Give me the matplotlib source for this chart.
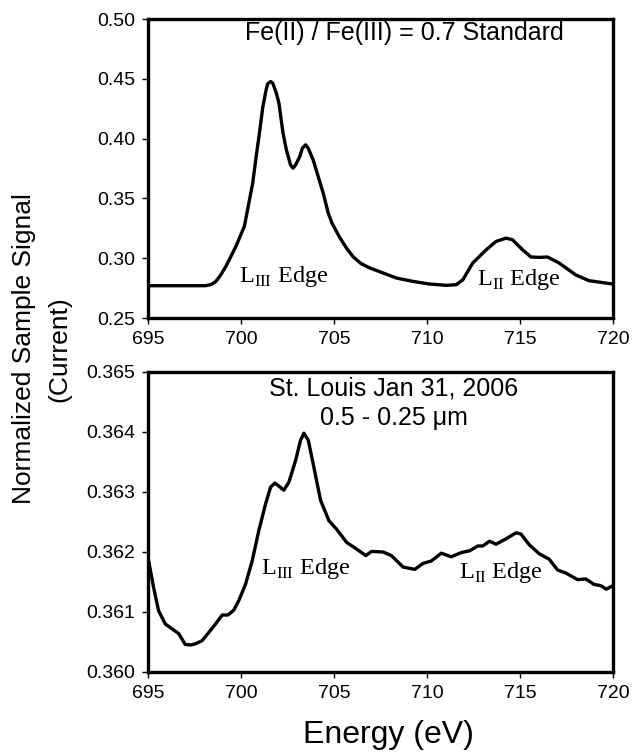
import numpy as np
import matplotlib.pyplot as plt
from matplotlib.ticker import FormatStrFormatter

plt.rcParams['font.family'] = ['Liberation Sans', 'DejaVu Sans']
plt.rcParams['mathtext.fontset'] = 'custom'
plt.rcParams['mathtext.rm'] = 'Liberation Serif'

# Fe(II)/Fe(III) = 0.7 standard spectrum
std_energy = [695.0, 698.1, 698.4, 698.65, 698.9, 699.19, 699.73, 700.18, 700.63, 700.81,
              700.99, 701.17, 701.35, 701.44, 701.59, 701.71, 701.9, 702.04, 702.26,
              702.44, 702.66, 702.8, 702.94, 703.16, 703.3, 703.47, 703.61, 703.88,
              704.15, 704.42, 704.69, 704.9, 705.32, 705.69, 706.04, 706.45, 706.93,
              708.36, 709.25, 710.14, 711.04, 711.57, 711.93, 712.46, 713.18, 713.71,
              714.25, 714.6, 715.14, 715.59, 716.04, 716.48, 717.1, 718.0, 718.71, 720.0]
std_signal = [0.277, 0.277, 0.2780, 0.2806, 0.2858, 0.2932, 0.310, 0.3266, 0.3628, 0.3845,
              0.4045, 0.4262, 0.4407, 0.4460, 0.4477, 0.4463, 0.438, 0.4296, 0.4045,
              0.3906, 0.3781, 0.3753, 0.3781, 0.385, 0.392, 0.3948, 0.392, 0.3822,
              0.3683, 0.3544, 0.3377, 0.329, 0.317, 0.308, 0.301, 0.2955, 0.2918,
              0.2834, 0.2806, 0.2784, 0.2773, 0.2778, 0.282, 0.296, 0.307, 0.314,
              0.3168, 0.3154, 0.307, 0.301, 0.3007, 0.301, 0.296, 0.286, 0.2812, 0.2784]

# St. Louis Jan 31, 2006 sample, 0.5 - 0.25 um
stl_energy = [695.0, 695.3, 695.57, 695.93, 696.47, 696.65, 697.0, 697.28, 697.55,
              697.9, 698.27, 698.63, 698.99, 699.3, 699.61, 699.88, 700.24, 700.6,
              700.96, 701.32, 701.59, 701.82, 702.07, 702.3, 702.57, 702.93, 703.2,
              703.38, 703.62, 703.92, 704.28, 704.73, 705.14, 705.68, 706.21, 706.71,
              707.02, 707.64, 708.09, 708.71, 709.34, 709.79, 710.23, 710.77, 711.3,
              711.84, 712.29, 712.73, 713.0, 713.36, 713.71, 714.25, 714.79, 715.05,
              715.5, 716.04, 716.57, 717.02, 717.46, 718.09, 718.54, 718.98, 719.34,
              719.64, 720.0]
stl_signal = [0.36191, 0.36141, 0.36102, 0.36080, 0.36068, 0.36064, 0.36046, 0.36045,
              0.36047, 0.36052, 0.36066, 0.36080, 0.36095, 0.36095, 0.36103, 0.36119,
              0.36146, 0.36185, 0.36236, 0.36280, 0.36308, 0.36315, 0.36309, 0.36303,
              0.36316, 0.36352, 0.36386, 0.36398, 0.36386, 0.36341, 0.36286, 0.36252,
              0.36238, 0.36216, 0.36205, 0.36194, 0.36201, 0.36200, 0.36194, 0.36175,
              0.36171, 0.36181, 0.36185, 0.36198, 0.36192, 0.36199, 0.36202, 0.36210,
              0.36210, 0.36218, 0.36213, 0.36222, 0.36232, 0.36230, 0.36212, 0.36197,
              0.36188, 0.36170, 0.36165, 0.36154, 0.36155, 0.36146, 0.36144, 0.36138,
              0.36144]

x_ticks = [695, 700, 705, 710, 715, 720]
std_yticks = [0.25, 0.30, 0.35, 0.40, 0.45, 0.50]
stl_yticks = [0.360, 0.361, 0.362, 0.363, 0.364, 0.365]

W, H = 632, 753
fig = plt.figure(figsize=(W / 100, H / 100), dpi=100)

def box(l, t, r, b):
    return [l / W, 1 - b / H, (r - l) / W, (b - t) / H]

ax1 = fig.add_axes(box(148, 19, 613, 318))
ax2 = fig.add_axes(box(148, 372, 613, 672))

for ax in (ax1, ax2):
    for s in ax.spines.values():
        s.set_linewidth(2.4)
    ax.tick_params(direction='out', length=4, width=1, labelsize=14, pad=5)
    ax.set_xlim(695, 720)
    ax.set_xticks(x_ticks)

ax1.plot(std_energy, std_signal, color='black', lw=2.4, solid_joinstyle='round')
ax1.set_ylim(0.25, 0.50)
ax1.set_yticks(std_yticks)
ax1.yaxis.set_major_formatter(FormatStrFormatter('%.2f'))

ax2.plot(stl_energy, stl_signal, color='black', lw=2.4, solid_joinstyle='round')
ax2.set_ylim(0.360, 0.365)
ax2.set_yticks(stl_yticks)
ax2.yaxis.set_major_formatter(FormatStrFormatter('%.3f'))

serif = ['Liberation Serif', 'DejaVu Serif']
ax1.text(708.8, 0.488, 'Fe(II) / Fe(III) = 0.7 Standard', ha='center', va='center', fontsize=18)
ax1.text(699.9, 0.2845, r'L$_{\rm III}$ Edge', ha='left', va='center', fontsize=17.5, family=serif)
ax1.text(712.7, 0.2825, r'L$_{\rm II}$ Edge', ha='left', va='center', fontsize=17.5, family=serif)

ax2.text(708.2, 0.36472, 'St. Louis Jan 31, 2006', ha='center', va='center', fontsize=18)
ax2.text(708.2, 0.36423, '0.5 - 0.25 \u03bcm', ha='center', va='center', fontsize=18)
ax2.text(701.1, 0.36172, r'L$_{\rm III}$ Edge', ha='left', va='center', fontsize=17.5, family=serif)
ax2.text(711.7, 0.36166, r'L$_{\rm II}$ Edge', ha='left', va='center', fontsize=17.5, family=serif)

fig.text(24 / W, 1 - 349 / H, 'Normalized Sample Signal', rotation=90, ha='center', va='center', fontsize=19)
fig.text(59 / W, 1 - 349 / H, '(Current)', rotation=90, ha='center', va='center', fontsize=19)
fig.text(388 / W, 1 - 735 / H, 'Energy (eV)', ha='center', va='center', fontsize=23)

fig.savefig('out.png', dpi=100)
